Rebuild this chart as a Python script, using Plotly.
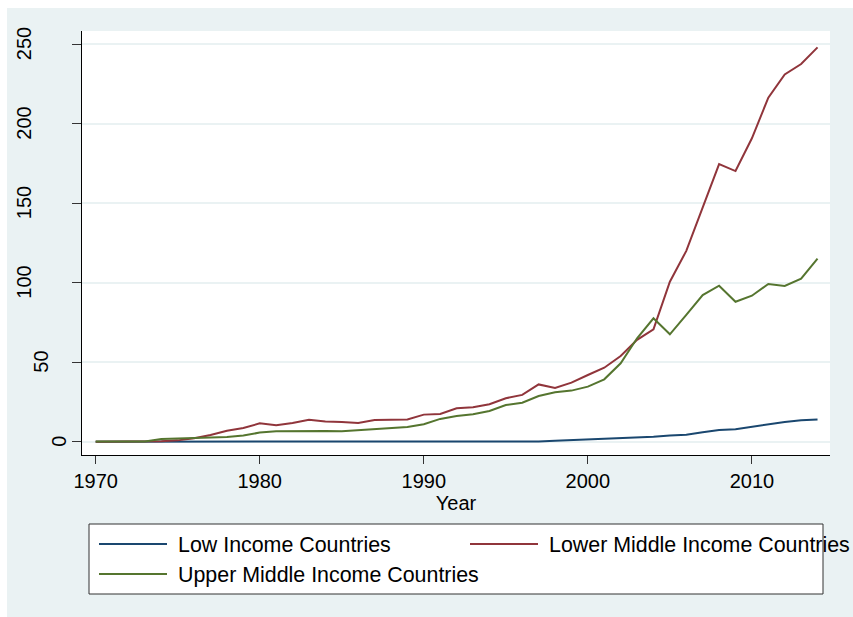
import plotly.graph_objects as go

# ---- data -------------------------------------------------------------
years = list(range(1970, 2015))

low_income = [0.0, 0.0, 0.0, 0.0, 0.0, 0.0, 0.0, 0.1, 0.1, 0.1,
              0.1, 0.1, 0.1, 0.1, 0.1, 0.1, 0.1, 0.1, 0.4, 0.4,
              0.1, 0.1, 0.1, 0.1, 0.1, 0.1, 0.1, 0.1, 0.6, 1.0,
              1.3, 1.5, 2.1, 2.7, 3.1, 3.8, 4.4, 5.9, 7.3, 7.8,
              9.4, 11.1, 12.4, 13.4, 14.0]

lower_middle = [0.0, 0.0, 0.0, 0.0, 0.2, 0.8, 2.1, 4.2, 6.9, 8.6,
                11.5, 10.3, 11.7, 13.8, 12.6, 12.4, 11.7, 13.6, 13.6, 14.0,
                17.0, 17.4, 21.0, 21.6, 23.5, 27.3, 29.4, 36.0, 33.8, 37.1,
                41.9, 46.5, 53.9, 64.0, 70.6, 100.6, 120.0, 146.8, 174.6, 170.2,
                190.8, 216.4, 231.0, 237.5, 248.0]

upper_middle = [0.1, 0.1, 0.1, 0.1, 1.7, 2.1, 2.3, 2.7, 2.9, 3.8,
                5.7, 6.5, 6.7, 6.5, 6.7, 6.5, 7.1, 8.0, 8.2, 9.2,
                10.9, 14.3, 16.1, 17.2, 19.3, 23.0, 24.5, 28.7, 31.0, 32.1,
                34.6, 39.2, 49.3, 65.0, 77.6, 67.5, 79.7, 92.2, 98.1, 88.0,
                91.8, 99.2, 97.9, 102.5, 115.1]

series_names = ["Low Income Countries", "Lower Middle Income Countries",
                "Upper Middle Income Countries"]
series_values = [low_income, lower_middle, upper_middle]
series_colors = ["#1A476F", "#90353B", "#55752F"]

x_ticks = [1970, 1980, 1990, 2000, 2010]
y_ticks = [0, 50, 100, 150, 200, 250]
x_title = "Year"

# ---- geometry (pixels) ------------------------------------------------
W, H = 853, 617
L, R, T, B = 82, 23, 31, 162
PW, PH = W - L - R, H - T - B
FONT = "Liberation Sans, Arial, Helvetica, sans-serif"
BG = "#EAF2F3"


def px(x):
    return (x - L) / PW


def py(y):
    return (H - B - y) / PH


fig = go.Figure()
for name, vals, col in zip(series_names, series_values, series_colors):
    fig.add_trace(go.Scatter(x=years, y=vals, mode="lines", name=name,
                             line=dict(color=col, width=2),
                             showlegend=False))

shapes = [
    # thin white frame along the top and left edges
    dict(type="rect", xref="paper", yref="paper", layer="below",
         x0=px(0), x1=px(W), y0=py(0), y1=py(8),
         fillcolor="white", line=dict(width=0)),
    dict(type="rect", xref="paper", yref="paper", layer="below",
         x0=px(0), x1=px(7), y0=py(0), y1=py(H),
         fillcolor="white", line=dict(width=0)),
    # legend box
    dict(type="rect", xref="paper", yref="paper",
         x0=px(89), x1=px(823), y0=py(524), y1=py(594),
         fillcolor="white", line=dict(color="#333333", width=1)),
]

annotations = []

# legend entries: two columns, wrapped onto rows
col_x = [99, 470]
row_y = [545, 575]
for i, (name, col) in enumerate(zip(series_names, series_colors)):
    cx = col_x[i % 2]
    ry = row_y[i // 2]
    shapes.append(dict(type="line", xref="paper", yref="paper",
                       x0=px(cx), x1=px(cx + 68), y0=py(ry - 1), y1=py(ry - 1),
                       line=dict(color=col, width=2)))
    annotations.append(dict(xref="paper", yref="paper",
                            x=px(cx + 77), y=py(ry), text=name,
                            showarrow=False, xanchor="left", yanchor="middle",
                            font=dict(family=FONT, size=21.4, color="black")))

# vertical y-axis labels
for v in y_ticks:
    s = str(v)
    right_edge = 37 + (3 - len(s)) * 17.5
    annotations.append(dict(xref="paper", yref="y", x=px(right_edge), y=v,
                            text=s, showarrow=False, textangle=-90,
                            xanchor="right", yanchor="middle",
                            font=dict(family=FONT, size=20, color="black")))

fig.update_layout(
    width=W, height=H,
    margin=dict(l=L, r=R, t=T, b=B, pad=0),
    paper_bgcolor=BG, plot_bgcolor="white",
    font=dict(family=FONT, size=20, color="black"),
    shapes=shapes, annotations=annotations,
    xaxis=dict(range=[1969.165, 2014.76], tickvals=x_ticks,
               showgrid=False, zeroline=False,
               showline=True, linecolor="black", linewidth=1,
               ticks="outside", ticklen=8, tickcolor="#333333", tickwidth=1,
               tickfont=dict(family=FONT, size=20, color="black"),
               title=dict(text=x_title, standoff=0,
                          font=dict(family=FONT, size=20, color="black"))),
    yaxis=dict(range=[-8.4, 258.3], tickvals=y_ticks, showticklabels=False,
               showgrid=True, gridcolor=BG, gridwidth=2, zeroline=False,
               showline=True, linecolor="black", linewidth=1,
               ticks="outside", ticklen=9, tickcolor="#333333", tickwidth=1),
)

fig.write_html("out.html")
